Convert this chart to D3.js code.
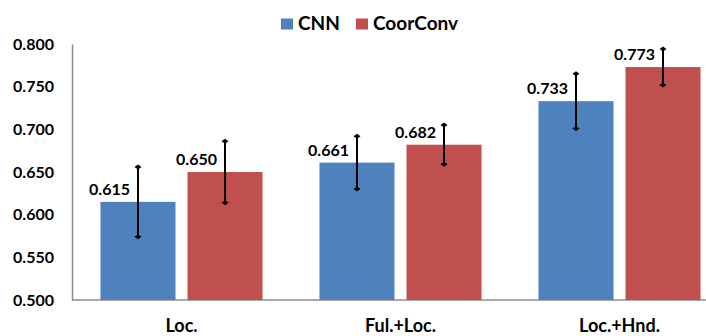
<!DOCTYPE html>
<html>
<head>
<meta charset="utf-8">
<script src="https://cdn.jsdelivr.net/npm/d3@7"></script>
<style>
  body { margin: 0; background: #fff; }
  svg { display: block; font-family: "Lato", "Open Sans", sans-serif; }
</style>
</head>
<body>
<div id="chart"></div>
<script>
// Data
const categories = ["Loc.", "Ful.+Loc.", "Loc.+Hnd."];
const seriesNames = ["CNN", "CoorConv"];
const cnnValues = [0.615, 0.661, 0.733];
const coorValues = [0.650, 0.682, 0.773];
const cnnErr = [0.041, 0.031, 0.032];
const coorErr = [0.036, 0.023, 0.021];
const yTicks = [0.5, 0.55, 0.6, 0.65, 0.7, 0.75, 0.8];
const colors = ["#4F81BD", "#C0504D"];

const width = 706, height = 336;
const plotLeft = 72, plotBottom = 300, plotTop = 44;

const svg = d3.select("#chart").append("svg")
    .attr("width", width)
    .attr("height", height);

// Scales
const x0 = d3.scaleBand()
    .domain(categories)
    .range([plotLeft, 729])
    .paddingInner(0.26)
    .paddingOuter(0.13);

const x1 = d3.scaleBand()
    .domain(seriesNames)
    .range([0, x0.bandwidth()])
    .paddingInner(0.138);

const y = d3.scaleLinear()
    .domain([0.5, 0.8])
    .range([plotBottom, plotTop]);

// Y axis
const yAxis = svg.append("g")
    .attr("transform", `translate(${plotLeft},0)`)
    .call(d3.axisLeft(y).tickValues(yTicks).tickFormat(d3.format(".3f")).tickSize(0).tickPadding(18));
yAxis.select(".domain").attr("stroke", "#8c8c8c").attr("stroke-width", 1.5);
yAxis.selectAll("text")
    .style("font-size", "16px")
    .style("font-weight", "bold")
    .style("font-family", "Lato")
    .attr("fill", "#000");

// X axis line
svg.append("line")
    .attr("x1", plotLeft).attr("x2", width)
    .attr("y1", plotBottom).attr("y2", plotBottom)
    .attr("stroke", "#8c8c8c")
    .attr("stroke-width", 1.5);

// Category labels
svg.selectAll(".cat")
    .data(categories)
    .enter().append("text")
    .attr("class", "cat")
    .attr("x", d => x0(d) + x0.bandwidth() / 2)
    .attr("y", 332)
    .attr("text-anchor", "middle")
    .style("font-size", "18px")
    .style("font-weight", "bold")
    .text(d => d);

// Build rows
const rows = [];
categories.forEach((c, i) => {
    rows.push({ cat: c, s: "CNN", v: cnnValues[i], e: cnnErr[i], color: colors[0] });
    rows.push({ cat: c, s: "CoorConv", v: coorValues[i], e: coorErr[i], color: colors[1] });
});

// Bars
svg.append("g").selectAll("rect")
    .data(rows)
    .enter().append("rect")
    .attr("x", d => x0(d.cat) + x1(d.s))
    .attr("y", d => y(d.v))
    .attr("width", x1.bandwidth())
    .attr("height", d => y(0.5) - y(d.v))
    .attr("fill", d => d.color);

// Error bars
const eb = svg.append("g").selectAll("g")
    .data(rows)
    .enter().append("g")
    .attr("transform", d => `translate(${x0(d.cat) + x1(d.s) + x1.bandwidth() / 2},0)`);

eb.append("line")
    .attr("y1", d => y(d.v + d.e))
    .attr("y2", d => y(d.v - d.e))
    .attr("stroke", "#000")
    .attr("stroke-width", 2);

const diamond = yy => `M-3.5,${yy} L0,${yy - 2.5} L3.5,${yy} L0,${yy + 2.5} Z`;
eb.append("path").attr("d", d => diamond(y(d.v + d.e))).attr("fill", "#000");
eb.append("path").attr("d", d => diamond(y(d.v - d.e))).attr("fill", "#000");

// Value labels
svg.append("g").selectAll("text")
    .data(rows)
    .enter().append("text")
    .attr("x", d => x0(d.cat) + x1(d.s) + x1.bandwidth() / 2 - 8)
    .attr("y", d => y(d.v) - 7)
    .attr("text-anchor", "end")
    .style("font-size", "16px")
    .style("font-weight", "bold")
    .text(d => d3.format(".3f")(d.v));

// Legend
const legend = svg.append("g");
const legendX = [281, 356];
seriesNames.forEach((s, i) => {
    legend.append("rect")
        .attr("x", legendX[i])
        .attr("y", 18.5)
        .attr("width", 12)
        .attr("height", 11)
        .attr("fill", colors[i]);
    legend.append("text")
        .attr("x", legendX[i] + 17)
        .attr("y", 30)
        .style("font-size", "19px")
        .style("font-weight", "bold")
        .text(s);
});
</script>
</body>
</html>
